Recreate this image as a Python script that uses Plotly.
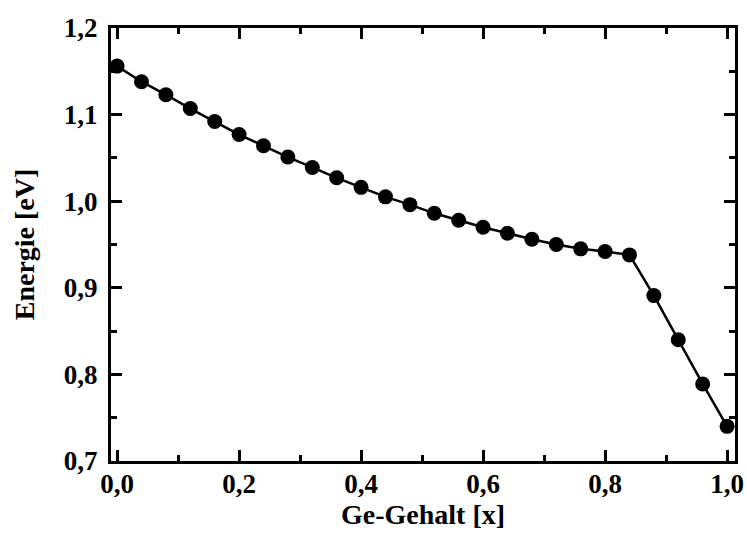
import plotly.graph_objects as go

ge_gehalt = [0.00, 0.04, 0.08, 0.12, 0.16, 0.20, 0.24, 0.28, 0.32, 0.36, 0.40, 0.44, 0.48,
             0.52, 0.56, 0.60, 0.64, 0.68, 0.72, 0.76, 0.80, 0.84, 0.88, 0.92, 0.96, 1.00]
energie = [1.156, 1.138, 1.123, 1.107, 1.092, 1.077, 1.064, 1.051, 1.039, 1.027, 1.016, 1.005, 0.996,
           0.986, 0.978, 0.970, 0.963, 0.956, 0.950, 0.945, 0.942, 0.938, 0.891, 0.840, 0.789, 0.740]

x_tickvals = [0.0, 0.2, 0.4, 0.6, 0.8, 1.0]
x_ticktext = ["0,0", "0,2", "0,4", "0,6", "0,8", "1,0"]
y_tickvals = [0.7, 0.8, 0.9, 1.0, 1.1, 1.2]
y_ticktext = ["0,7", "0,8", "0,9", "1,0", "1,1", "1,2"]

font = "Liberation Serif, Times New Roman, serif"

fig = go.Figure(go.Scatter(
    x=ge_gehalt, y=energie, mode="lines+markers",
    line=dict(color="black", width=2.5),
    marker=dict(color="black", size=15),
    cliponaxis=False,
))

axis_common = dict(
    showline=True, linecolor="black", linewidth=3, mirror="ticks",
    ticks="inside", ticklen=11, tickwidth=2.5, tickcolor="black",
    showgrid=False, zeroline=False, automargin=False,
    tickfont=dict(family=font, size=27, color="black"),
)

fig.update_xaxes(
    range=[-0.01, 1.013],
    tickvals=x_tickvals, ticktext=["<b>%s</b>" % t for t in x_ticktext],
    minor=dict(ticks="inside", dtick=0.1, tick0=0, ticklen=6, tickwidth=2.5, tickcolor="black"),
    title=dict(text="<b>Ge-Gehalt [x]</b>", font=dict(family=font, size=28, color="black"), standoff=6),
    ticklabelstandoff=-3,
    **axis_common,
)
fig.update_yaxes(
    range=[0.7, 1.2],
    tickvals=y_tickvals, ticktext=["<b>%s</b>" % t for t in y_ticktext],
    minor=dict(ticks="inside", dtick=0.05, tick0=0.7, ticklen=6, tickwidth=2.5, tickcolor="black"),
    title=dict(text="<b>Energie [eV]</b>", font=dict(family=font, size=28, color="black"), standoff=22),
    ticklabelstandoff=5,
    **axis_common,
)

fig.update_layout(
    width=747, height=553,
    margin=dict(l=111, r=12, t=28, b=92),
    plot_bgcolor="white", paper_bgcolor="white",
    showlegend=False,
)

fig.write_html("out.html")
